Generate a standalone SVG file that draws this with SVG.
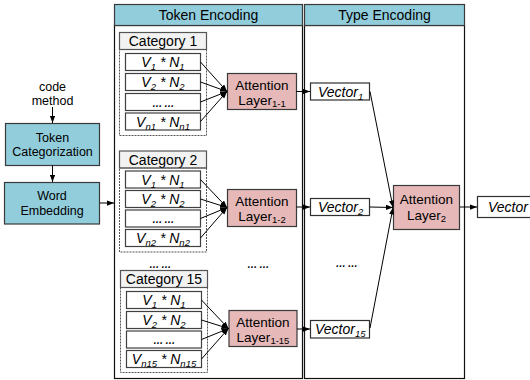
<svg xmlns="http://www.w3.org/2000/svg" width="530" height="380" viewBox="0 0 530 380">
<defs>
<marker id="ah" viewBox="0 0 8 6" refX="8" refY="3" markerWidth="7" markerHeight="5.5" markerUnits="userSpaceOnUse" orient="auto">
<path d="M0,0 L8,3 L0,6 z" fill="#000"/>
</marker>
<style>
text{font-family:"Liberation Sans",Arial,sans-serif;fill:#000}
.t14{font-size:14px}
.att{font-size:13.5px;text-anchor:middle}
.t12{font-size:12.5px}
.c{text-anchor:middle}
.it{font-style:italic}
.dots{font-size:10px;font-weight:bold;font-style:italic;text-anchor:middle;letter-spacing:-0.5px}
.blue{fill:#92CDDC;stroke:#3A3A3A;stroke-width:1.2}
.pink{fill:#E6B9B8;stroke:#3A3A3A;stroke-width:1.2}
.panel{fill:#fff;stroke:#111;stroke-width:1.2}
.cat{fill:#F2F2F2;stroke:#555;stroke-width:1.2}
.dash{fill:none;stroke:#555;stroke-width:1;stroke-dasharray:2,1}
.item{fill:#fff;stroke:#404040;stroke-width:1.2}
.vec{fill:#fff;stroke:#303030;stroke-width:1.2}
.conn line{stroke:#000;stroke-width:1;marker-end:url(#ah)}
.sub{font-size:9.5px}
</style>
</defs>

<g id="token-encoding-panel">
<rect class="panel" x="114.5" y="25.5" width="188" height="353"/>
<rect class="blue" x="114.5" y="4.5" width="188" height="21"/>
<text class="t14 c" x="208.5" y="20">Token Encoding</text>
</g>
<g id="type-encoding-panel">
<rect class="panel" x="304.5" y="25.5" width="160" height="353"/>
<rect class="blue" x="304.5" y="4.5" width="160" height="21"/>
<text class="t14 c" x="384.5" y="20">Type Encoding</text>
</g>

<g id="input-text">
<text class="t12 c" x="52.5" y="90.5">code<tspan x="52.5" dy="14">method</tspan></text>
</g>
<g id="token-categorization">
<rect class="blue" x="5.5" y="123.5" width="94" height="42"/>
<text class="t12 c" x="52.5" y="141.5">Token<tspan x="52.5" dy="14.5">Categorization</tspan></text>
</g>
<g id="word-embedding">
<rect class="blue" x="4.5" y="182.5" width="95" height="41.5"/>
<text class="t12 c" x="52" y="200">Word<tspan x="52" dy="14.5">Embedding</tspan></text>
</g>

<g id="category-1">
<rect class="cat" x="119.5" y="32.5" width="87" height="17"/>
<text class="t14 c" x="163" y="46">Category 1</text>
<rect class="dash" x="119.5" y="49.5" width="87" height="86"/>
<rect class="item" x="125.5" y="53.5" width="75" height="17"/>
<text class="t14 c it" x="163" y="67">V<tspan class="sub" dy="3">1</tspan><tspan dy="-3"> * N</tspan><tspan class="sub" dy="3">1</tspan></text>
<rect class="item" x="125.5" y="73.5" width="75" height="17"/>
<text class="t14 c it" x="163" y="87">V<tspan class="sub" dy="3">2</tspan><tspan dy="-3"> * N</tspan><tspan class="sub" dy="3">2</tspan></text>
<rect class="item" x="125.5" y="93.5" width="75" height="17"/>
<text class="dots" x="163" y="106.5">… …</text>
<rect class="item" x="125.5" y="113" width="75" height="17"/>
<text class="t14 c it" x="163" y="126.5">V<tspan class="sub" dy="3">n1</tspan><tspan dy="-3"> * N</tspan><tspan class="sub" dy="3">n1</tspan></text>
</g>

<g id="category-2">
<rect class="cat" x="119.5" y="151" width="87" height="17"/>
<text class="t14 c" x="163" y="164.5">Category 2</text>
<rect class="dash" x="119.5" y="168" width="87" height="84"/>
<rect class="item" x="125.5" y="171" width="75" height="17"/>
<text class="t14 c it" x="163" y="184.5">V<tspan class="sub" dy="3">1</tspan><tspan dy="-3"> * N</tspan><tspan class="sub" dy="3">1</tspan></text>
<rect class="item" x="125.5" y="190.5" width="75" height="17"/>
<text class="t14 c it" x="163" y="204">V<tspan class="sub" dy="3">2</tspan><tspan dy="-3"> * N</tspan><tspan class="sub" dy="3">2</tspan></text>
<rect class="item" x="125.5" y="210" width="75" height="17"/>
<text class="dots" x="163" y="223">… …</text>
<rect class="item" x="125.5" y="229.5" width="75" height="17"/>
<text class="t14 c it" x="163" y="243">V<tspan class="sub" dy="3">n2</tspan><tspan dy="-3"> * N</tspan><tspan class="sub" dy="3">n2</tspan></text>
</g>

<g id="category-dots">
<text class="dots" x="160" y="268">… …</text>
</g>

<g id="category-15">
<rect class="cat" x="120.5" y="270.5" width="87" height="17"/>
<text class="t14 c" x="164" y="284">Category 15</text>
<rect class="dash" x="120.5" y="287.5" width="87" height="85"/>
<rect class="item" x="126.5" y="291.5" width="75" height="17"/>
<text class="t14 c it" x="164" y="305">V<tspan class="sub" dy="3">1</tspan><tspan dy="-3"> * N</tspan><tspan class="sub" dy="3">1</tspan></text>
<rect class="item" x="126.5" y="311.5" width="75" height="17"/>
<text class="t14 c it" x="164" y="325">V<tspan class="sub" dy="3">2</tspan><tspan dy="-3"> * N</tspan><tspan class="sub" dy="3">2</tspan></text>
<rect class="item" x="126.5" y="331" width="75" height="17"/>
<text class="dots" x="164" y="344">… …</text>
<rect class="item" x="126.5" y="350.5" width="75" height="17"/>
<text class="t14 c it" x="164" y="364">V<tspan class="sub" dy="3">n15</tspan><tspan dy="-3"> * N</tspan><tspan class="sub" dy="3">n15</tspan></text>
</g>

<g id="attention-1-1">
<rect class="pink" x="227.5" y="73.5" width="69" height="36"/>
<text class="att" x="262" y="89.5">Attention<tspan x="262" dy="15.5">Layer</tspan><tspan class="sub" dy="2">1-1</tspan></text>
</g>
<g id="attention-1-2">
<rect class="pink" x="227.5" y="189.5" width="69" height="37"/>
<text class="att" x="262" y="205.5">Attention<tspan x="262" dy="15.5">Layer</tspan><tspan class="sub" dy="2">1-2</tspan></text>
</g>
<g id="attention-dots">
<text class="dots" x="258" y="268">… …</text>
</g>
<g id="attention-1-15">
<rect class="pink" x="229" y="310.5" width="68" height="36"/>
<text class="att" x="263" y="326.5">Attention<tspan x="263" dy="15.5">Layer</tspan><tspan class="sub" dy="2">1-15</tspan></text>
</g>

<g id="vector-1">
<rect class="vec" x="310.5" y="83" width="59" height="17"/>
<text class="t14 it" x="318" y="96.5">Vector<tspan class="sub" dy="3">1</tspan></text>
</g>
<g id="vector-2">
<rect class="vec" x="310.5" y="198.5" width="59" height="17"/>
<text class="t14 it" x="318" y="212">Vector<tspan class="sub" dy="3">2</tspan></text>
</g>
<g id="vector-dots">
<text class="dots" x="346.5" y="267">… …</text>
</g>
<g id="vector-15">
<rect class="vec" x="310.5" y="320.5" width="59" height="17.5"/>
<text class="t14 it" x="315" y="334">Vector<tspan class="sub" dy="3">15</tspan></text>
</g>

<g id="attention-2">
<rect class="pink" x="393.5" y="185.5" width="66" height="44"/>
<text class="att" x="426.5" y="204">Attention<tspan x="426.5" dy="15.5">Layer</tspan><tspan class="sub" dy="2">2</tspan></text>
</g>
<g id="vector-out">
<rect class="vec" x="477.5" y="196.5" width="60" height="21"/>
<text class="t14 it" x="488" y="212">Vector</text>
</g>

<g id="connectors" class="conn">
<line x1="52.5" y1="107" x2="52.5" y2="123"/>
<line x1="52.5" y1="165.5" x2="52.5" y2="182"/>
<line x1="100" y1="203" x2="114" y2="203"/>

<line x1="200.5" y1="62" x2="227" y2="91.5"/>
<line x1="200.5" y1="82" x2="227" y2="91.5"/>
<line x1="200.5" y1="102" x2="227" y2="91.5"/>
<line x1="200.5" y1="121.5" x2="227" y2="91.5"/>

<line x1="200.5" y1="179.5" x2="227" y2="207.5"/>
<line x1="200.5" y1="199" x2="227" y2="207.5"/>
<line x1="200.5" y1="218.5" x2="227" y2="207.5"/>
<line x1="200.5" y1="238" x2="227" y2="207.5"/>

<line x1="201.5" y1="300" x2="228.5" y2="328.5"/>
<line x1="201.5" y1="320" x2="228.5" y2="328.5"/>
<line x1="201.5" y1="339.5" x2="228.5" y2="328.5"/>
<line x1="201.5" y1="359" x2="228.5" y2="328.5"/>

<line x1="296.5" y1="91.5" x2="310" y2="91.5"/>
<line x1="296.5" y1="207" x2="310" y2="207"/>
<line x1="297" y1="329" x2="310" y2="329"/>

<line x1="370" y1="91.5" x2="393" y2="207.5"/>
<line x1="370" y1="207" x2="393" y2="207.5"/>
<line x1="370" y1="328" x2="393" y2="207.5"/>

<line x1="460" y1="207" x2="477" y2="207"/>
</g>
</svg>
